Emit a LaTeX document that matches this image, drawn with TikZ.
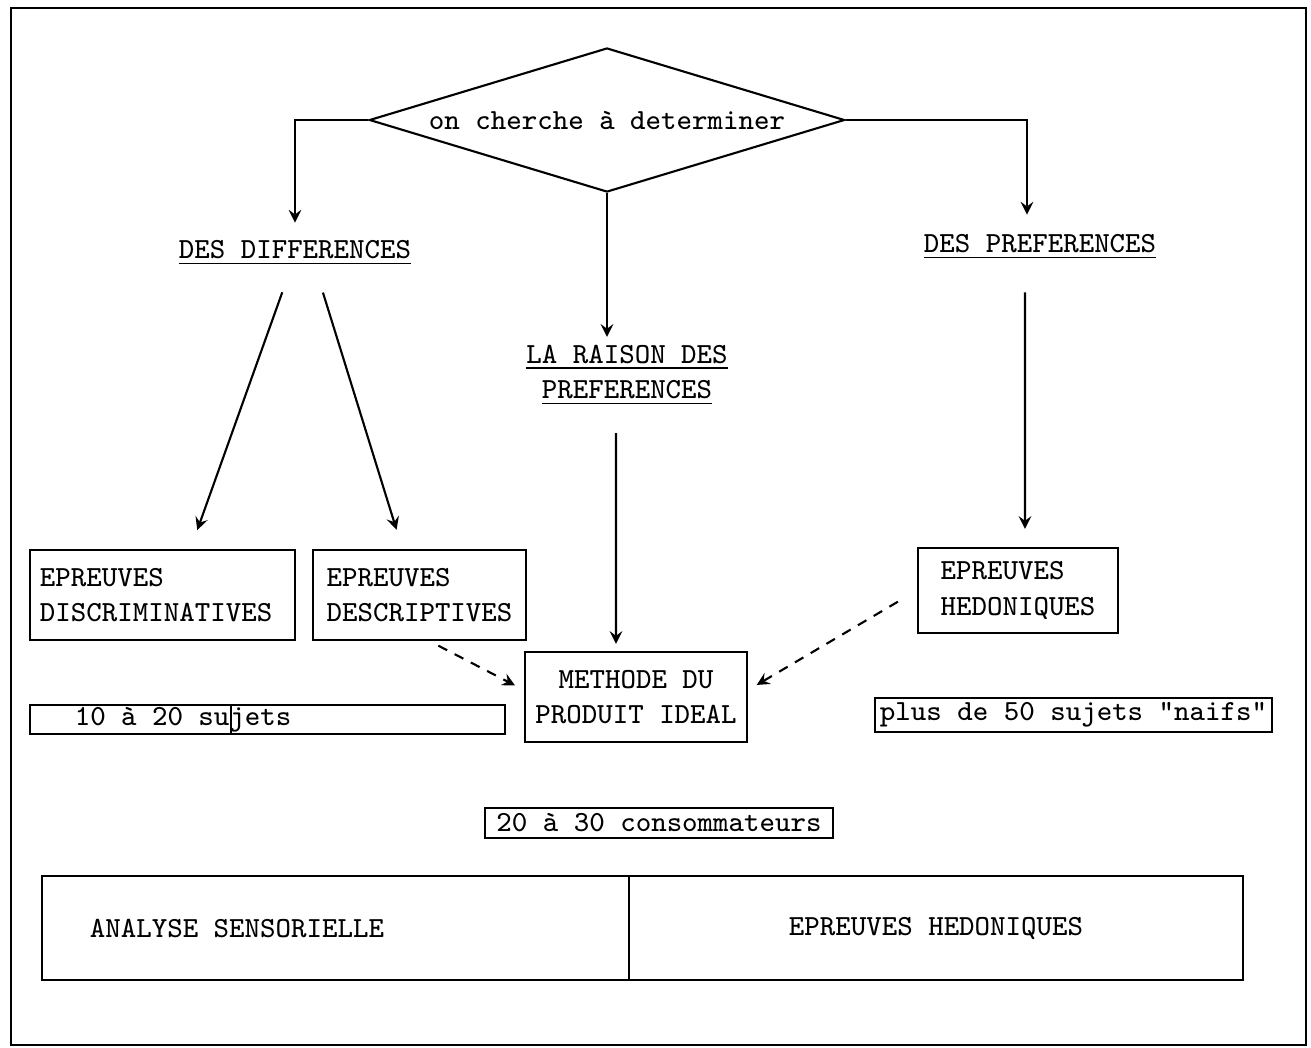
\documentclass[tikz,border=0pt]{standalone}
\usepackage{amsmath}
\usepackage{tikz}
\usetikzlibrary{shapes.geometric, arrows}
\tikzstyle{arrow} = [->,>=stealth]
\tikzstyle{dasharrow} = [->,>=stealth,dash pattern=on 2.8pt off 2.4pt]
\tikzstyle{decision} = [diamond, draw, aspect=3.3, inner sep=0pt, minimum width=4.75cm, minimum height=1.44cm]
\tikzstyle{box} = [rectangle, draw, align=left, inner sep=0pt, minimum height=0.9cm]
\tikzstyle{tag} = [rectangle, draw, inner xsep=0pt, inner ysep=0.5pt]
\tikzstyle{heading} = [align=center, inner sep=2pt]
\tikzstyle{fixspace} = [execute at begin node={\spaceskip=0.525em plus 0pt minus 0pt\relax}]
\newcommand{\dotfont}{\ttfamily\fontsize{8.3}{10}\selectfont}

\begin{document}
\begin{tikzpicture}[x=0.01cm,y=-0.01cm,line width=0.6pt,font=\dotfont]
	\useasboundingbox (0,0) rectangle (1311,1047);

	% Frame:
	\draw (11,8) rectangle (1306,1045);

	% Question:
	\node [decision] (dia) at (607,120) {on cherche à determiner};

	% What is looked for:
	\node [heading] (diff) at (295,253) {\underline{DES DIFFERENCES}};
	\node [heading] (raison) at (627,375) {\underline{LA RAISON DES}\\\underline{PREFERENCES}};
	\node [heading] (pref) at (1040,247) {\underline{DES PREFERENCES}};

	\draw [arrow, shorten >=0.1cm] (dia.west) -| (diff.north);
	\draw [arrow, shorten >=0.12cm] (dia.east) -| ([xshift=-0.13cm]pref.north);
	\draw [arrow] (dia.south) -- (dia.south |- raison.north);

	% Tests:
	\node [box, inner xsep=0.1cm, text width=2.45cm] (disc) at (162.5,595) {EPREUVES\\DISCRIMINATIVES};
	\node [box, minimum width=2.13cm] (desc) at (419.5,595) {EPREUVES\\DESCRIPTIVES};
	\node [box, minimum width=2.0cm, minimum height=0.85cm] (hedo) at (1018,590.5) {EPREUVES\\HEDONIQUES};
	\node [box, align=center, minimum width=2.22cm] (meth) at (636,697) {METHODE DU\\PRODUIT IDEAL};

	\draw [arrow, shorten <=0.2cm, shorten >=0.2cm] ([xshift=-0.06cm]diff.south) -- ([xshift=0.28cm]disc.north);
	\draw [arrow, shorten <=0.2cm, shorten >=0.2cm] ([xshift=0.22cm]diff.south) -- ([xshift=-0.17cm]desc.north);
	\draw [arrow, shorten <=0.25cm, shorten >=0.18cm] ([xshift=-0.15cm]pref.south) -- ([xshift=0.07cm]hedo.north);
	\draw [arrow, shorten <=0.2cm, shorten >=0.07cm] ([xshift=-0.11cm]raison.south) -- ([xshift=-0.2cm]meth.north);

	\draw [dasharrow, shorten <=0.1cm, shorten >=0.1cm] ([xshift=0.1cm]desc.south) -- ([yshift=0.07cm]meth.west);
	\draw [dasharrow, shorten <=0.22cm, shorten >=0.1cm] (hedo.west) -- ([yshift=0.07cm]meth.east);

	% Number of subjects:
	\node [tag, fixspace, minimum width=4.75cm, minimum height=0.27cm, text width=4.75cm, align=left] (sujA) at (267.5,719.5) {\hspace*{0.45cm}10 à 20 sujets};
	\draw ([xshift=2.02cm]sujA.north west) -- ([xshift=2.02cm]sujA.south west);
	\node [tag, minimum width=3.97cm, minimum height=0.34cm] (sujB) at (1073.5,715) {plus de 50 sujets "naifs"};
	\node [tag, minimum width=3.48cm, minimum height=0.3cm] (conso) at (659,823) {20 à 30 consommateurs};

	% Bottom:
	\node [box, fixspace, inner xsep=0.48cm, text width=4.91cm, minimum height=1.04cm] (sens) at (335.5,928) {ANALYSE SENSORIELLE};
	\node [box, align=center, minimum width=6.14cm, minimum height=1.04cm] (hedB) at (936,928) {EPREUVES HEDONIQUES};

\end{tikzpicture}
\end{document}
